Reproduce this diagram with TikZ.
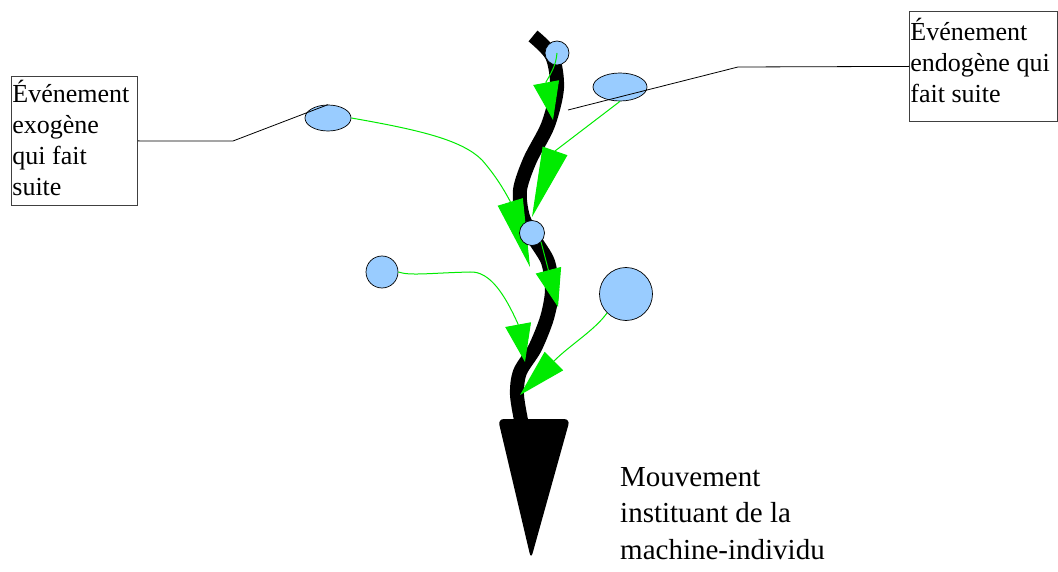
\documentclass[tikz,border=0pt]{standalone}
\usepackage{fontspec}
\setmainfont{Liberation Serif}
\usetikzlibrary{arrows.meta,shapes.geometric}
\definecolor{evblue}{RGB}{153,204,255}
\definecolor{evgreen}{RGB}{0,235,0}
\tikzset{
  event/.style={circle, draw=black, line width=0.7pt, fill=evblue, inner sep=0pt},
  eventoval/.style={ellipse, draw=black, line width=0.7pt, fill=evblue, inner sep=0pt},
  influence/.style={evgreen, line width=1pt, -{Triangle[length=#1, width=26pt]}},
  influence/.default=38pt,
  labelbox/.style={draw=black!75, line width=0.8pt, anchor=north west, align=flush left,
    inner xsep=1pt, inner ysep=0pt, font=\fontsize{26}{31}\selectfont},
  callout/.style={black, line width=0.8pt},
}

\begin{document}
\begin{tikzpicture}[x=1pt,y=-1pt]
  \useasboundingbox (0,0) rectangle (1058,572);
  % the stem and its cone
  \draw[line width=14pt] plot[smooth] coordinates {(533,36) (552,56) (557,88) (548,125) (530,160) (520,190) (523,217) (535,240) (548,262) (552,290) (547,318) (535,348) (520,372) (517,395) (522,425)};
  \fill[rounded corners=6pt] (498,419) -- (570,419) -- (531,559) -- cycle;

  % label boxes
  \node[labelbox, minimum height=129pt, text width=124pt] (exo) at (11,76) {Événement\\exogène\\qui fait\\suite\rule[-6pt]{0pt}{6pt}};
  \node[labelbox, minimum height=110pt, text width=146pt] (endo) at (909,11) {Événement\\endogène qui\\fait suite\rule[-13pt]{0pt}{13pt}};
  \node[anchor=north west, align=flush left, inner sep=0pt, font=\fontsize{29}{36.5}\selectfont] (mouv) at (620,467) {Mouvement\\instituant de la\\machine-individu};

  % events
  \node[eventoval, minimum width=54pt, minimum height=28pt] (e1) at (620,87) {};
  \node[eventoval, minimum width=46pt, minimum height=26pt] (e2) at (328,118) {};
  \node[event, minimum size=24pt] (c1) at (557,53) {};
  \node[event, minimum size=32pt] (c3) at (382,272) {};
  \node[event, minimum size=53pt] (c4) at (626,294) {};

  % callouts
  \coordinate (rtail) at (568,110);
  \draw[callout] (exo.east) -- (233,141) -- (e2.north);
  \draw[callout] (endo.west) -- (738,67) -- (rtail);

  % influences on the stem
  \coordinate (t1) at (553,120);
  \coordinate (t2) at (532,217);
  \coordinate (t3) at (530,267);
  \coordinate (t4) at (558,307);
  \coordinate (t5) at (525,362);
  \coordinate (t6) at (520,395);
  \draw[influence] (c1.center) .. controls (556,66) and (550,75) .. (546,82) -- (t1);
  \draw[influence=70pt] (e1.south) -- (555,151) -- (t2);
  \draw[influence=68pt] (e2.east) .. controls (420,130) and (462,140) .. (482,160) .. controls (495,175) and (503,188) .. (510,201) -- (t3);
  \draw[influence] (c3.east) .. controls (410,276) and (430,273) .. (470,272) .. controls (490,271) and (505,295) .. (518,324) -- (t5);
  \draw[influence=48pt] (c4.-135) .. controls (595,330) and (570,345) .. (554,361) -- (t6);
  \node[event, minimum size=25pt] (c2) at (532,233) {};
  \draw[influence] (c2.south east) -- (t4);
\end{tikzpicture}
\end{document}
